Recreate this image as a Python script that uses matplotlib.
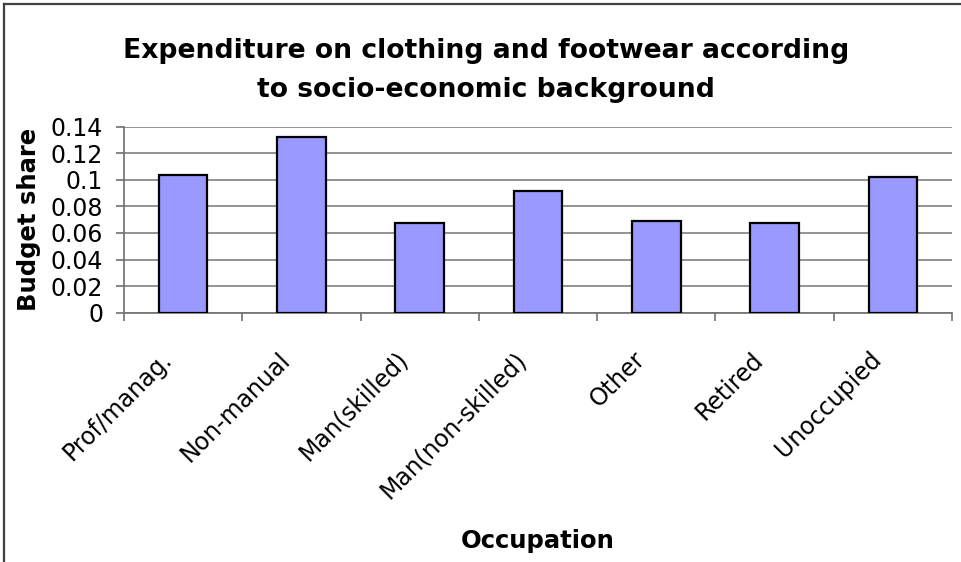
import numpy as np
import matplotlib
matplotlib.use('Agg')
from matplotlib import pyplot as plt
from matplotlib.lines import Line2D
from matplotlib.ticker import FuncFormatter, FixedLocator
import matplotlib.transforms as mtransforms

occupations = ['Prof/manag.', 'Non-manual', 'Man(skilled)', 'Man(non-skilled)',
               'Other', 'Retired', 'Unoccupied']
budget_share = [0.1036, 0.1325, 0.0675, 0.0918, 0.0692, 0.0675, 0.1021]
y_ticks = [0, 0.02, 0.04, 0.06, 0.08, 0.1, 0.12, 0.14]

plt.rcParams['font.family'] = ['DejaVu Sans']

W, H = 961, 562
fig = plt.figure(figsize=(W / 100, H / 100), dpi=100)
ax = fig.add_axes([124 / W, 1 - 312.7 / H, (952 - 124) / W, (312.7 - 126.7) / H])

x = np.arange(len(occupations)) + 0.5
ax.bar(x, budget_share, width=0.41, color='#9999FF', edgecolor='black',
       linewidth=1.6, zorder=3)

ax.set_xlim(0, len(occupations))
ax.set_ylim(0, 0.14)

# gridlines
ax.set_yticks(y_ticks)
ax.yaxis.set_major_formatter(FuncFormatter(lambda v, p: '%g' % v))
ax.grid(axis='y', color='#808080', linewidth=1.2, zorder=0)
ax.set_axisbelow(True)

for s in ['top', 'right']:
    ax.spines[s].set_visible(False)
for s in ['left', 'bottom']:
    ax.spines[s].set_color('#707070')
    ax.spines[s].set_linewidth(1.2)

ax.tick_params(axis='y', direction='out', length=6, width=1.2, color='#707070',
               labelsize=17, pad=9)

# category labels at centres, tick marks at the boundaries
ax.xaxis.set_major_locator(FixedLocator(x))
ax.xaxis.set_minor_locator(FixedLocator(np.arange(len(occupations) + 1)))
ax.set_xticklabels(occupations)
ax.tick_params(axis='x', which='major', length=0, labelsize=17, pad=31)
ax.tick_params(axis='x', which='minor', direction='out', length=6, width=1.2,
               color='#707070')
offset = mtransforms.ScaledTranslation(-15 / 100, 0, fig.dpi_scale_trans)
for lbl in ax.get_xticklabels():
    lbl.set_rotation(45)
    lbl.set_ha('right')
    lbl.set_va('center')
    lbl.set_rotation_mode('anchor')
    lbl.set_transform(lbl.get_transform() + offset)

ax.set_ylabel('Budget share', fontsize=17.5, fontweight='bold', va='center')
ax.yaxis.set_label_coords(-0.1147, 0.5)
ax.set_xlabel('Occupation', fontsize=17.5, fontweight='bold', va='center')
ax.xaxis.set_label_coords(0.5, -1.227)

fig.text(486 / W, 1 - 58 / H, 'Expenditure on clothing and footwear according',
         ha='center', va='baseline', fontsize=19.2, fontweight='bold')
fig.text(486 / W, 1 - 97 / H, 'to socio-economic background',
         ha='center', va='baseline', fontsize=19.2, fontweight='bold')

# chart area border (only top and left edges are visible)
fig.add_artist(Line2D([4 / W, 4 / W], [0, 1 - 4 / H], transform=fig.transFigure,
                      color='#404040', linewidth=1.6))
fig.add_artist(Line2D([4 / W, 1], [1 - 4 / H, 1 - 4 / H], transform=fig.transFigure,
                      color='#404040', linewidth=1.6))

fig.savefig('out.png', dpi=100)
